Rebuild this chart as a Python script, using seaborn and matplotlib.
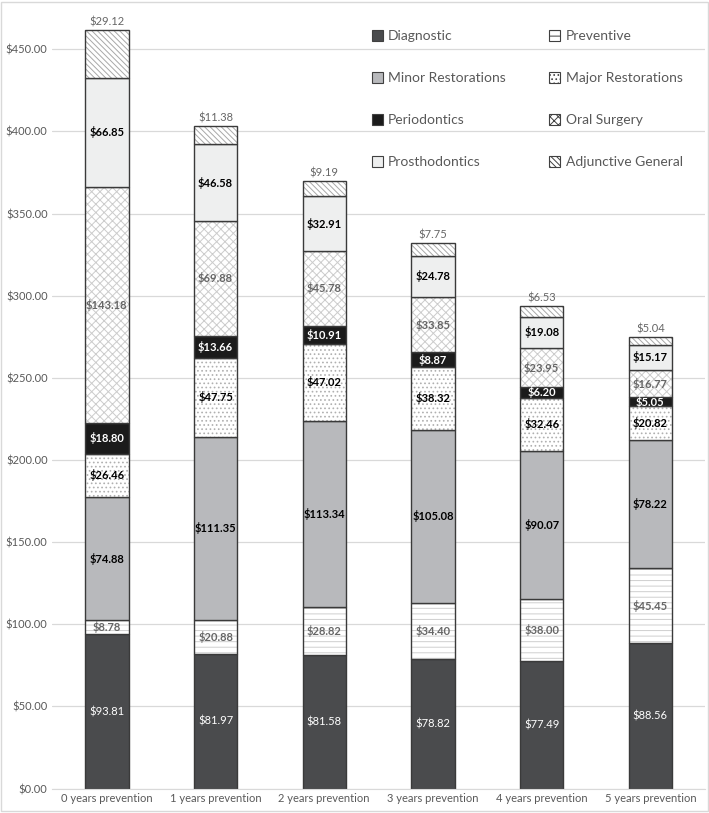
import numpy as np
import pandas as pd
import matplotlib
matplotlib.use("Agg")
import matplotlib.pyplot as plt
from matplotlib.patches import Patch, Rectangle
import seaborn as sns

sns.set_style("white")
plt.rcParams['font.family'] = ['Lato', 'DejaVu Sans']
plt.rcParams['hatch.linewidth'] = 0.7

# data
years = ["0 years prevention", "1 years prevention", "2 years prevention",
         "3 years prevention", "4 years prevention", "5 years prevention"]
diagnostic = [93.81, 81.97, 81.58, 78.82, 77.49, 88.56]
preventive = [8.78, 20.88, 28.82, 34.40, 38.00, 45.45]
minor_rest = [74.88, 111.35, 113.34, 105.08, 90.07, 78.22]
major_rest = [26.46, 47.75, 47.02, 38.32, 32.46, 20.82]
periodontics = [18.80, 13.66, 10.91, 8.87, 6.20, 5.05]
oral_surgery = [143.18, 69.88, 45.78, 33.85, 23.95, 16.77]
prosthodontics = [66.85, 46.58, 32.91, 24.78, 19.08, 15.17]
adjunctive = [29.12, 11.38, 9.19, 7.75, 6.53, 5.04]

names = ["Diagnostic", "Preventive", "Minor Restorations", "Major Restorations",
         "Periodontics", "Oral Surgery", "Prosthodontics", "Adjunctive General"]
series = [diagnostic, preventive, minor_rest, major_rest,
          periodontics, oral_surgery, prosthodontics, adjunctive]

# (face colour, hatch, hatch colour, label colour, label weight)
styles = [
    ("#4a4b4d", None, None, "white", "normal"),
    ("white", "---", "#cfcfcf", "#666666", "bold"),
    ("#b8b9bc", None, None, "black", "bold"),
    ("white", "....", "#b0b0b0", "black", "bold"),
    ("#1b1b1b", None, None, "white", "bold"),
    ("white", "xxxx", "#cccccc", "#666666", "bold"),
    ("#eeefef", None, None, "black", "bold"),
    ("white", "\\\\\\\\\\\\", "#a8a8a8", "#666666", "normal"),
]

fig = plt.figure(figsize=(7.09, 8.13), dpi=100)
ax = fig.add_axes([0.074, 0.030, 0.92, 0.96])

bottom = np.zeros(len(years))
for name, vals, st in zip(names, series, styles):
    face, hatch, hcol, tcol, tw = st
    if hatch is None:
        sns.barplot(x=years, y=vals, bottom=bottom, color=face, saturation=1,
                    width=0.4, edgecolor="#3a3a3a", linewidth=1.0,
                    errorbar=None, ax=ax)
    else:
        # hatch drawn in light colour, then a dark outline on top
        n0 = len(ax.patches)
        sns.barplot(x=years, y=vals, bottom=bottom, color=face, saturation=1,
                    width=0.4, hatch=hatch, errorbar=None, ax=ax)
        for p in ax.patches[n0:]:
            p.set_edgecolor(hcol)
            p.set_linewidth(0)
        sns.barplot(x=years, y=vals, bottom=bottom, color="#3a3a3a", fill=False,
                    saturation=1, width=0.4, linewidth=1.0,
                    errorbar=None, ax=ax)
    for i, v in enumerate(vals):
        if name == "Adjunctive General":
            ax.text(i, bottom[i] + v + 1.5, f"${v:.2f}", ha="center", va="bottom",
                    color=tcol, fontsize=8, fontweight=tw)
        else:
            ax.text(i, bottom[i] + v / 2, f"${v:.2f}", ha="center", va="center",
                    color=tcol, fontsize=8, fontweight=tw)
    bottom = bottom + np.array(vals)

ax.set_ylim(0, 475)
ax.set_xlim(-0.5, 5.5)
ax.set_yticks(np.arange(0, 451, 50))
ax.set_yticklabels([f"${t:.2f}" for t in np.arange(0, 451, 50)])
ax.yaxis.grid(True, color="#d9d9d9", linewidth=0.9)
ax.set_axisbelow(True)
ax.tick_params(axis="both", length=0, labelsize=8, labelcolor="#595959")
for s in ["top", "right", "left"]:
    ax.spines[s].set_visible(False)
ax.spines["bottom"].set_color("#d9d9d9")
ax.set_xlabel("")
ax.set_ylabel("")

handles = []
for name, st in zip(names, styles):
    face, hatch, hcol, tcol, tw = st
    handles.append(Patch(facecolor=face, edgecolor="#404040", hatch=hatch,
                         linewidth=0.8, label=name))
order = [0, 2, 4, 6, 1, 3, 5, 7]
ax.legend([handles[i] for i in order], [names[i] for i in order], ncol=2,
          loc="upper left", bbox_to_anchor=(0.47, 0.988), frameon=False,
          fontsize=10, handlelength=0.8, handleheight=0.8, handletextpad=0.4,
          labelspacing=2.15, columnspacing=3.1, labelcolor="#595959")

fig.patches.append(Rectangle((0.002, 0.002), 0.996, 0.996, transform=fig.transFigure,
                             fill=False, edgecolor="#d9d9d9", linewidth=1))

fig.savefig("out.png", dpi=100)
